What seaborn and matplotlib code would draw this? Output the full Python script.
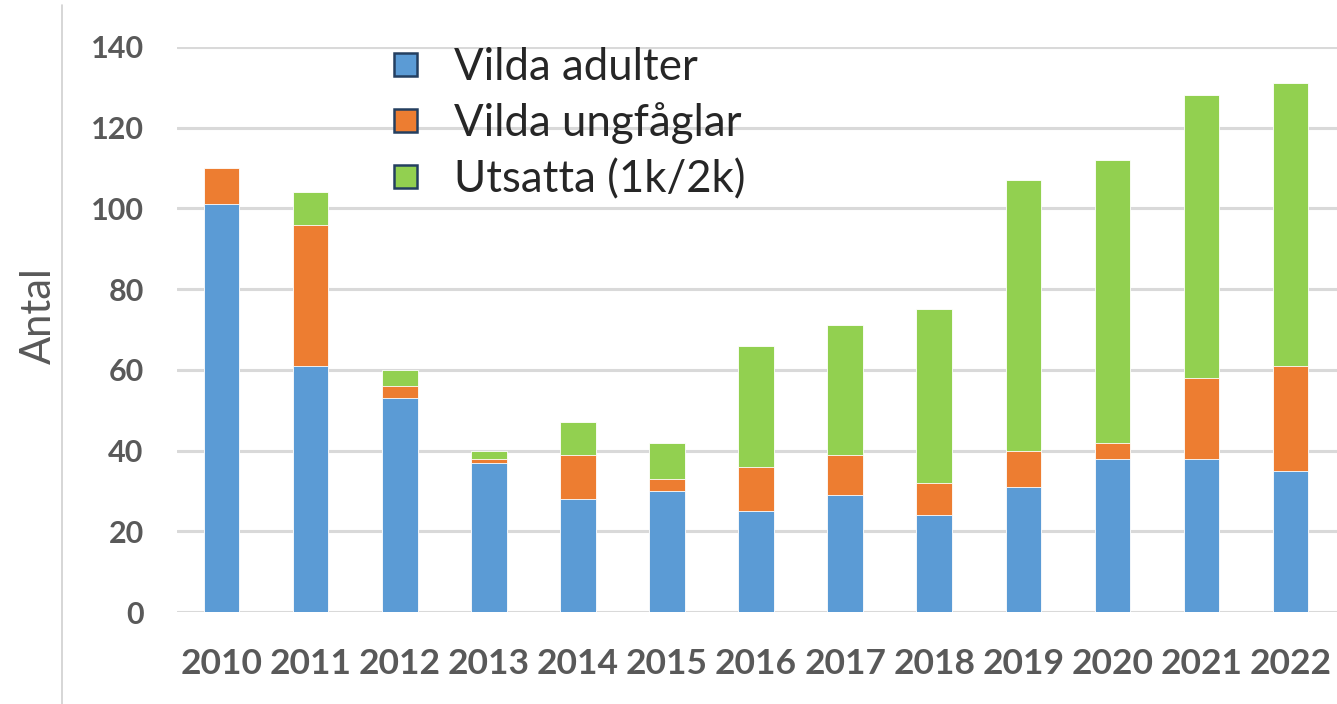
import matplotlib
matplotlib.use("Agg")
import matplotlib.pyplot as plt
from matplotlib.patches import Patch
from matplotlib.lines import Line2D
import numpy as np
import pandas as pd
import seaborn as sns

years = ["2010", "2011", "2012", "2013", "2014", "2015", "2016",
         "2017", "2018", "2019", "2020", "2021", "2022"]
vilda_adulter = [101, 61, 53, 37, 28, 30, 25, 29, 24, 31, 38, 38, 35]
vilda_ungfaglar = [9, 35, 3, 1, 11, 3, 11, 10, 8, 9, 4, 20, 26]
utsatta = [0, 8, 4, 2, 8, 9, 30, 32, 43, 67, 70, 70, 70]

series_names = ["Vilda adulter", "Vilda ungfåglar", "Utsatta (1k/2k)"]
colors = ["#5B9BD5", "#ED7D31", "#92D050"]

sns.set_theme(style="white")
plt.rcParams["font.family"] = ["Lato", "DejaVu Sans"]

df = pd.DataFrame({
    "year": years,
    "adult": vilda_adulter,
    "young": vilda_ungfaglar,
    "released": utsatta,
})
df["lvl1"] = df["adult"]
df["lvl2"] = df["adult"] + df["young"]
df["lvl3"] = df["lvl2"] + df["released"]

fig = plt.figure(figsize=(13.37, 7.04), dpi=100)
ax = fig.add_axes([177 / 1337, 1 - 612 / 704, 1 - 177 / 1337, (612 - 47) / 704])

# stacked bars: draw cumulative totals from the top layer down
for col, c in zip(["lvl3", "lvl2", "lvl1"], colors[::-1]):
    sns.barplot(data=df, x="year", y=col, color=c, width=0.4,
                saturation=1, ax=ax, edgecolor="white", linewidth=0.6,
                zorder=3)

ax.set_ylim(0, 140)
ax.set_xlim(-0.5, 12.52)
ax.set_yticks(np.arange(0, 141, 20))
ax.yaxis.grid(True, color="#d9d9d9", linewidth=2.2, zorder=0)
ax.xaxis.grid(False)
ax.set_axisbelow(True)
for s in ax.spines.values():
    s.set_visible(False)

ax.tick_params(axis="y", length=0, pad=24, labelsize=22, labelcolor="#595959")
ax.tick_params(axis="x", length=0, pad=26, labelsize=25.5, labelcolor="#595959")
for lab in ax.get_yticklabels() + ax.get_xticklabels():
    lab.set_fontweight("bold")

ax.set_xlabel("")
ax.set_ylabel("Antal", fontsize=30, color="#595959")
ax.yaxis.set_label_coords(-0.103, 0.524)

# thin frame line on the left
fig.add_artist(Line2D([62 / 1337, 62 / 1337], [0, 1 - 5 / 704],
                      transform=fig.transFigure, color="#d0d0d0", linewidth=1.2))

handles = [Patch(facecolor=c, edgecolor="#243f60", linewidth=1.8) for c in colors]
fig.legend(handles, series_names, loc="upper left",
           bbox_to_anchor=(394 / 1337, 1 - 47 / 704), frameon=False,
           fontsize=31.5, handlelength=0.52, handleheight=0.42,
           handletextpad=0.85, labelspacing=0.33, borderpad=0, borderaxespad=0)

fig.savefig("out.png", dpi=100)
